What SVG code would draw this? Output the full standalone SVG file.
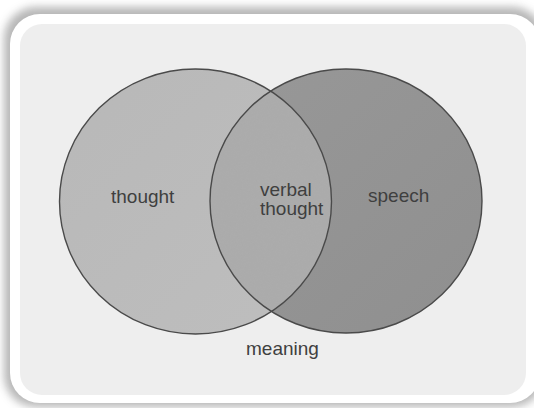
<svg xmlns="http://www.w3.org/2000/svg" width="534" height="408" viewBox="0 0 534 408">
  <style>
    .lbl { font-family: "Liberation Sans", Arial, sans-serif; font-size: 19px; fill: #3f3f3f; }
    .ring { fill: none; stroke: #4a4a4a; stroke-width: 1.4; }
  </style>
  <defs>
    <filter id="shadow" x="-10%" y="-10%" width="120%" height="120%">
      <feGaussianBlur stdDeviation="4.5"/>
    </filter>
    <filter id="grain" x="0" y="0" width="100%" height="100%">
      <feTurbulence type="fractalNoise" baseFrequency="0.85" numOctaves="2" seed="3" result="n"/>
      <feColorMatrix in="n" type="matrix" values="0 0 0 0 0.42  0 0 0 0 0.42  0 0 0 0 0.42  0 0 0 0.5 -0.05" result="g"/>
      <feComposite in="g" in2="SourceGraphic" operator="in" result="gc"/>
      <feMerge><feMergeNode in="SourceGraphic"/><feMergeNode in="gc"/></feMerge>
    </filter>
    <clipPath id="leftClip">
      <ellipse cx="195.5" cy="201.5" rx="136" ry="132.5"/>
    </clipPath>
    <linearGradient id="gl" x1="0" y1="0" x2="1" y2="1">
      <stop offset="0" stop-color="#b8b8b8"/>
      <stop offset="1" stop-color="#bebebe"/>
    </linearGradient>
    <linearGradient id="gr" x1="0" y1="0" x2="1" y2="1">
      <stop offset="0" stop-color="#989898"/>
      <stop offset="1" stop-color="#8f8f8f"/>
    </linearGradient>
  </defs>

  <rect width="534" height="408" fill="#ffffff"/>
  <!-- frame with shadow -->
  <rect x="4" y="7" width="540" height="400" rx="32" fill="#707070" filter="url(#shadow)" opacity="0.5"/>
  <rect x="10" y="14" width="530" height="389" rx="30" fill="#ffffff"/>
  <rect x="20" y="24" width="506" height="371" rx="22" fill="#eeeeee"/>

  <g id="thought">
    <ellipse cx="195.5" cy="201.5" rx="136" ry="132.5" fill="url(#gl)"/>
  </g>
  <g id="speech">
    <ellipse cx="346" cy="201" rx="136" ry="132" fill="url(#gr)"/>
  </g>
  <g id="verbal-thought">
    <ellipse cx="346" cy="201" rx="136" ry="132" fill="#ababab" clip-path="url(#leftClip)" filter="url(#grain)"/>
  </g>

  <g id="connectors">
    <ellipse class="ring" cx="195.5" cy="201.5" rx="136" ry="132.5"/>
    <ellipse class="ring" cx="346" cy="201" rx="136" ry="132"/>
  </g>

  <text class="lbl" x="111" y="202.5">thought</text>
  <text class="lbl" x="368" y="202">speech</text>
  <text class="lbl" x="260" y="196">verbal</text>
  <text class="lbl" x="260" y="215">thought</text>
  <text class="lbl" x="246" y="354.5">meaning</text>
</svg>
